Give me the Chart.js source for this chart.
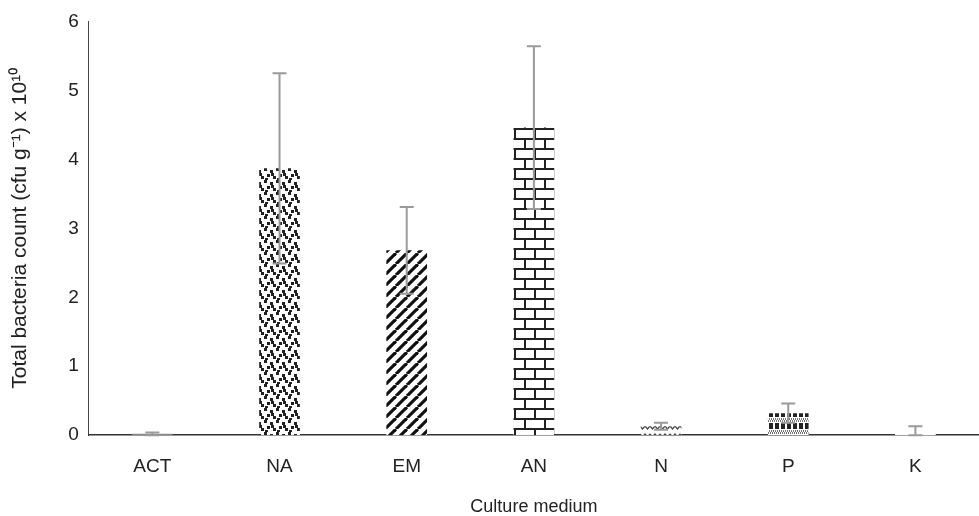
<!DOCTYPE html>
<html>
<head>
<meta charset="utf-8">
<style>
  html, body { margin: 0; padding: 0; background: #fff; }
  #wrap { width: 979px; height: 516px; }
</style>
</head>
<body>
<div id="wrap"><canvas id="myChart" width="979" height="516"></canvas></div>
<script src="https://cdn.jsdelivr.net/npm/chart.js"></script>
<script>
  const categories = ['ACT', 'NA', 'EM', 'AN', 'N', 'P', 'K'];
  const means = [0.02, 3.87, 2.68, 4.46, 0.13, 0.32, 0.03];
  const errors = [0.02, 1.38, 0.63, 1.18, 0.05, 0.14, 0.10];
  const yTicks = [0, 1, 2, 3, 4, 5, 6];

  // small tiles for the bar fills
  function tile(w, h, draw) {
    const c = document.createElement('canvas');
    c.width = w; c.height = h;
    const g = c.getContext('2d');
    g.fillStyle = '#fff';
    g.fillRect(0, 0, w, h);
    draw(g);
    return document.getElementById('myChart').getContext('2d').createPattern(c, 'repeat');
  }

  const fills = [
    '#8a8a8a',
    tile(12, 12, g => {
      g.fillStyle = '#222';
      [[0,0],[6,2],[3,6],[9,8],[1,10],[7,5]].forEach(([x, y]) => g.fillRect(x, y, 3, 3));
    }),
    tile(11, 11, g => {
      g.strokeStyle = '#111';
      g.lineWidth = 3.2;
      for (let k = -11; k <= 22; k += 11) {
        g.beginPath(); g.moveTo(k, 11); g.lineTo(k + 11, 0); g.stroke();
      }
    }),
    tile(20, 20, g => {
      g.fillStyle = '#222';
      g.fillRect(0, 8, 20, 2);
      g.fillRect(0, 18, 20, 2);
      g.fillRect(4, 0, 2, 10);
      g.fillRect(14, 10, 2, 10);
    }),
    tile(10, 8, g => {
      g.strokeStyle = '#444';
      g.lineWidth = 1.2;
      g.beginPath(); g.moveTo(0, 2); g.lineTo(2.5, 5); g.lineTo(5, 2); g.lineTo(7.5, 5); g.lineTo(10, 2); g.stroke();
    }),
    tile(12, 12, g => {
      g.fillStyle = '#222';
      g.fillRect(1, 3, 4, 6);
      g.fillRect(7, 3, 4, 6);
      g.fillStyle = '#777';
      for (let x = 0; x < 12; x += 2) { g.fillRect(x, 0, 1, 2); g.fillRect(x + 1, 10, 1, 2); }
    }),
    tile(10, 10, g => {
      g.fillStyle = '#555';
      g.fillRect(2, 6, 2, 2);
      g.fillRect(7, 6, 2, 2);
    })
  ];

  const errorBars = {
    id: 'errorBars',
    afterDatasetsDraw(chart) {
      const meta = chart.getDatasetMeta(0);
      const y = chart.scales.y;
      const ctx = chart.ctx;
      ctx.save();
      ctx.strokeStyle = '#9a9a9a';
      ctx.lineWidth = 2;
      meta.data.forEach((bar, i) => {
        const top = y.getPixelForValue(means[i] + errors[i]);
        const bot = y.getPixelForValue(Math.max(0, means[i] - errors[i]));
        ctx.beginPath();
        ctx.moveTo(bar.x, top); ctx.lineTo(bar.x, bot);
        ctx.moveTo(bar.x - 7, top); ctx.lineTo(bar.x + 7, top);
        ctx.moveTo(bar.x - 7, bot); ctx.lineTo(bar.x + 7, bot);
        ctx.stroke();
      });
      ctx.restore();
    }
  };

  const ctx = document.getElementById('myChart');
  Chart.defaults.font.family = "'Liberation Sans', Arial, sans-serif";
  Chart.defaults.color = '#222';
  new Chart(ctx, {
    type: 'bar',
    plugins: [errorBars],
    data: {
      labels: categories,
      datasets: [{
        data: means,
        backgroundColor: fills,
        borderWidth: 0,
        categoryPercentage: 1,
        barPercentage: 0.32
      }]
    },
    options: {
      responsive: false,
      animation: false,
      layout: { padding: { top: 10, right: 0, left: 8, bottom: 0 } },
      plugins: { legend: { display: false }, tooltip: { enabled: false } },
      scales: {
        y: {
          min: 0,
          max: 6,
          afterBuildTicks: axis => { axis.ticks = yTicks.map(v => ({ value: v })); },
          grid: { display: false, drawTicks: false },
          border: { display: true, color: '#444', width: 1 },
          ticks: { font: { size: 19 }, padding: 10, color: '#222' },
          title: {
            display: true,
            text: 'Total bacteria count (cfu g⁻¹) x 10¹⁰',
            font: { size: 21 },
            color: '#222',
            padding: { top: 0, bottom: 25 }
          }
        },
        x: {
          grid: { display: false, drawTicks: false },
          border: { display: true, color: '#333', width: 1.5 },
          ticks: { font: { size: 19 }, padding: 20, color: '#222' },
          title: {
            display: true,
            text: 'Culture medium',
            font: { size: 18, lineHeight: 1 },
            color: '#222',
            padding: { top: 0, bottom: 0 }
          }
        }
      }
    }
  });
</script>
</body>
</html>
